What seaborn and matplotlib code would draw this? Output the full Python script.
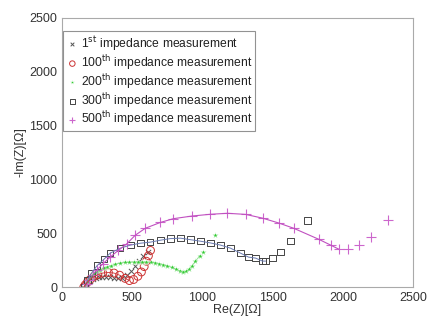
import numpy as np
import pandas as pd
import matplotlib
matplotlib.use("Agg")
import matplotlib.pyplot as plt
import seaborn as sns

sns.set_style("white")
plt.rcParams['font.family'] = ['Liberation Sans', 'DejaVu Sans']

# 1st measurement (x markers)
m1_re = [150, 160, 172, 186, 202, 220, 240, 262, 286, 312, 340, 370, 400, 430, 460, 490, 520, 550, 580, 610]
m1_im = [0, 15, 30, 45, 60, 72, 82, 90, 95, 97, 95, 88, 80, 85, 110, 150, 195, 240, 285, 330]

# 100th measurement (circles)
m100_re = [155, 165, 180, 200, 225, 255, 290, 330, 370, 410, 450, 480, 510, 540, 565, 585, 600, 615, 630]
m100_im = [0, 20, 45, 70, 95, 115, 130, 135, 130, 110, 80, 60, 70, 100, 140, 190, 240, 290, 340]

# 200th measurement (stars)
m200_re = [160, 170, 182, 196, 212, 230, 250, 272, 296, 322, 350, 380, 414, 448, 480, 510, 540, 570, 600, 630,
           660, 690, 720, 750, 780, 810, 840, 864, 885, 905, 925, 950, 980, 1007, 1092]
m200_im = [0, 25, 50, 75, 100, 122, 142, 160, 175, 188, 200, 212, 222, 228, 231, 232, 233, 233, 232, 230,
           226, 218, 208, 196, 182, 166, 150, 139, 145, 165, 195, 240, 290, 330, 480]

# 300th measurement (squares)
m300_re = [160, 180, 210, 250, 300, 343, 414, 486, 557, 628, 700, 771, 843, 914, 985, 1056, 1128, 1200, 1271,
           1328, 1378, 1428, 1450, 1499, 1557, 1628, 1750]
m300_im = [0, 60, 130, 200, 260, 315, 361, 389, 407, 417, 435, 450, 454, 440, 426, 410, 390, 361, 315,
           278, 269, 241, 241, 269, 324, 426, 620]

# 500th measurement (plus)
m500_re = [160, 175, 195, 220, 250, 290, 340, 400, 460, 521, 593, 700, 793, 928, 1057, 1178, 1307, 1428,
           1543, 1650, 1828, 1914, 1971, 2035, 2113, 2199, 2321]
m500_im = [0, 30, 70, 115, 160, 215, 275, 340, 400, 481, 546, 600, 635, 660, 676, 685, 675, 640,
           595, 546, 444, 389, 352, 352, 389, 463, 620]

ticks = [0, 500, 1000, 1500, 2000, 2500]

fig = plt.figure(figsize=(4.28, 3.2), dpi=100)
ax = fig.add_axes([0.145, 0.103, 0.82, 0.841])

# fitted lines
n300 = 23
sns.lineplot(x=m300_re[:n300], y=m300_im[:n300], sort=False, ax=ax, color='#6a7ab0', lw=0.7, estimator=None)
n500 = 23
sns.lineplot(x=m500_re[:n500], y=m500_im[:n500], sort=False, ax=ax, color='#c050c0', lw=0.8, estimator=None)
sns.lineplot(x=m200_re[:-2], y=m200_im[:-2], sort=False, ax=ax, color='#44cc44', lw=0.6, estimator=None, alpha=0.6)
sns.lineplot(x=m100_re[:12], y=m100_im[:12], sort=False, ax=ax, color='#cc3333', lw=0.6, estimator=None)

sns.scatterplot(x=m1_re, y=m1_im, ax=ax, marker='x', color='#555555', s=14, linewidth=0.7,
                label='1$^{\\rm st}$ impedance measurement')
sns.scatterplot(x=m100_re, y=m100_im, ax=ax, marker='o', facecolor='none', edgecolor='#cc3333', s=32, linewidth=0.7,
                label='100$^{\\rm th}$ impedance measurement')
sns.scatterplot(x=m200_re, y=m200_im, ax=ax, marker='*', color='#33cc33', s=20, linewidth=0.3,
                label='200$^{\\rm th}$ impedance measurement')
sns.scatterplot(x=m300_re, y=m300_im, ax=ax, marker='s', facecolor='none', edgecolor='#444444', s=22, linewidth=0.7,
                label='300$^{\\rm th}$ impedance measurement')
sns.scatterplot(x=m500_re, y=m500_im, ax=ax, marker='+', color='#cc66cc', s=42, linewidth=0.8,
                label='500$^{\\rm th}$ impedance measurement')

ax.set_xlim(0, 2500)
ax.set_ylim(0, 2500)
ax.set_xticks(ticks)
ax.set_yticks(ticks)
ax.tick_params(direction='in', length=3, labelsize=9, colors='#333333', width=0.6)
for s in ax.spines.values():
    s.set_color('#aaaaaa')
    s.set_linewidth(0.8)
ax.set_xlabel('Re(Z)[Ω]', fontsize=9, labelpad=0, color='#333333')
ax.set_ylabel('-Im(Z)[Ω]', fontsize=9, labelpad=2, color='#333333')

leg = ax.legend(loc='upper left', bbox_to_anchor=(0.0, 0.955), fontsize=8.7, frameon=True, fancybox=False,
                edgecolor='#777777', markerscale=0.7,
                handletextpad=0.2, borderpad=0.25, labelspacing=0.0, borderaxespad=0.1, handlelength=1.0)
leg.get_frame().set_linewidth(0.8)
for t in leg.get_texts():
    t.set_color('#222222')

fig.savefig('out.png', dpi=100)
